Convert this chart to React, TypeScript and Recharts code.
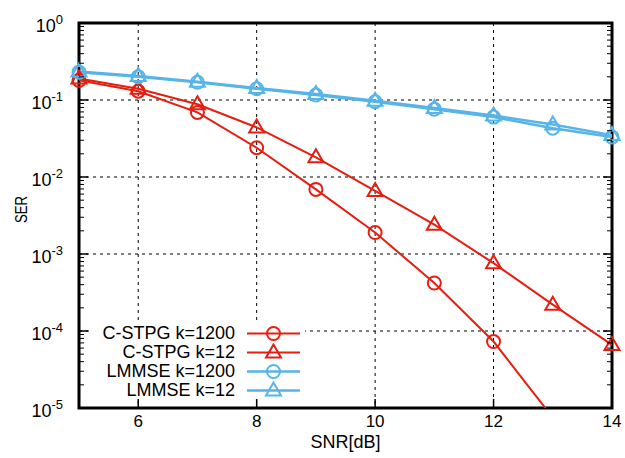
import {
  ComposedChart,
  Line,
  Scatter,
  XAxis,
  YAxis,
  CartesianGrid,
  ReferenceArea,
} from 'recharts'

// values
const SNR = [5, 6, 7, 8, 9, 10, 11, 12, 13, 14]
const CSTPG_1200 = [0.18, 0.13, 0.069, 0.024, 0.0069, 0.0019, 0.00042, 7.3e-5, 7.5e-6]
const CSTPG_12 = [0.19, 0.14, 0.088, 0.044, 0.018, 0.0066, 0.0024, 0.00076, 0.00022, 6.6e-5]
const LMMSE_1200 = [0.23, 0.2, 0.17, 0.14, 0.116, 0.095, 0.076, 0.06, 0.043, 0.033]
const LMMSE_12 = [0.235, 0.205, 0.172, 0.143, 0.12, 0.098, 0.079, 0.063, 0.048, 0.035]

const X_TICKS = [6, 8, 10, 12, 14]
const X_GRID = [6, 8, 10, 12]
const DECADES = [1e-5, 1e-4, 1e-3, 1e-2, 1e-1, 1]
const MINOR_STEPS = [2, 3, 4, 5, 6, 7, 8, 9]

const Y_MIN = DECADES[0]
const Y_MAX = DECADES[DECADES.length - 1]
const Y_TICKS = DECADES.flatMap((d, i) =>
  i === DECADES.length - 1 ? [d] : [d, ...MINOR_STEPS.map((m) => m * d)]
)

const RED = '#e51e10'
const BLUE = '#56b4e9'
const FONT = '"Liberation Sans", Arial, Helvetica, sans-serif'

const SERIES = [
  { key: 'c1200', name: 'C-STPG k=1200', values: CSTPG_1200, color: RED, shape: 'circle', width: 2 },
  { key: 'c12', name: 'C-STPG k=12', values: CSTPG_12, color: RED, shape: 'triangle', width: 2 },
  { key: 'l1200', name: 'LMMSE k=1200', values: LMMSE_1200, color: BLUE, shape: 'circle', width: 2.5 },
  { key: 'l12', name: 'LMMSE k=12', values: LMMSE_12, color: BLUE, shape: 'triangle', width: 2.5 },
]

const data = SNR.map((snr, i) => {
  const row: Record<string, number | undefined> = { snr }
  SERIES.forEach((s) => (row[s.key] = s.values[i]))
  return row
})

// points inside the y range, for the markers
const markerData = (values: number[]) =>
  SNR.map((x, i) => ({ x, y: values[i] })).filter((p) => p.y != null && p.y >= Y_MIN)

const isMajor = (v: number) => Math.abs(Math.log10(v) - Math.round(Math.log10(v))) < 1e-9

function Marker({ cx, cy, shape, color, sw }: any) {
  if (cx == null || cy == null) return null
  if (shape === 'circle') {
    return <circle cx={cx} cy={cy} r={6.5} fill="none" stroke={color} strokeWidth={sw} />
  }
  return (
    <path
      d={`M${cx},${cy - 8}L${cx + 7.5},${cy + 5}L${cx - 7.5},${cy + 5}Z`}
      fill="none"
      stroke={color}
      strokeWidth={sw}
    />
  )
}

function LeftTick({ x, y, payload }: any) {
  const v = payload.value
  const major = isMajor(v)
  const e = Math.round(Math.log10(v))
  return (
    <g>
      <line x1={x} x2={x + (major ? 9 : 5)} y1={y} y2={y} stroke="#000" strokeWidth={major ? 1.5 : 1} />
      {major && (
        <text x={x - 16} y={y + 9} textAnchor="end" fontSize={18} fontFamily={FONT} fill="#000">
          10
          <tspan dy={-8} fontSize={13}>
            {String(e)}
          </tspan>
        </text>
      )}
    </g>
  )
}

function RightTick({ x, y, payload }: any) {
  const major = isMajor(payload.value)
  return <line x1={x} x2={x - (major ? 9 : 5)} y1={y} y2={y} stroke="#000" strokeWidth={major ? 1.5 : 1} />
}

function BottomTick({ x, y, payload }: any) {
  return (
    <g>
      <line x1={x} x2={x} y1={y} y2={y - 9} stroke="#000" strokeWidth={1.5} />
      <text x={x} y={y + 19} textAnchor="middle" fontSize={17} fontFamily={FONT} fill="#000">
        {payload.value}
      </text>
    </g>
  )
}

function SerTitle(props: any) {
  const vb = props.viewBox ?? { x: 0, y: 23, width: 79, height: 385 }
  const cx = vb.x + 21
  const cy = vb.y + vb.height / 2 - 6
  return (
    <text
      transform={`translate(${cx},${cy}) rotate(-90) scale(0.78,1)`}
      textAnchor="middle"
      dominantBaseline="central"
      fontSize={17}
      fontFamily={FONT}
      fill="#000"
    >
      SER
    </text>
  )
}

function LegendBox() {
  return (
    <div
      style={{
        position: 'absolute',
        left: 90,
        top: 324,
        width: 215,
        height: 75,
        background: '#fff',
        fontFamily: FONT,
        fontSize: 18,
        color: '#000',
      }}
    >
      {SERIES.map((s) => (
        <div key={s.key} style={{ height: 19, display: 'flex', alignItems: 'center' }}>
          <span style={{ width: 145, textAlign: 'right', lineHeight: '19px', whiteSpace: 'nowrap' }}>
            {s.name}
          </span>
          <svg width={58} height={19} style={{ marginLeft: 12, display: 'block' }}>
            <line x1={0} x2={53} y1={9.5} y2={9.5} stroke={s.color} strokeWidth={s.width} />
            <Marker cx={26.5} cy={9.5} shape={s.shape} color={s.color} sw={2} />
          </svg>
        </div>
      ))}
    </div>
  )
}

export default function App() {
  return (
    <div style={{ position: 'absolute', left: 0, top: 0, width: 625, height: 458, background: '#fff' }}>
      <ComposedChart width={625} height={458} data={data} margin={{ top: 23, right: 0, bottom: 0, left: 0 }}>
        <CartesianGrid
          stroke="#000"
          strokeWidth={1}
          strokeDasharray="3 4"
          horizontalValues={DECADES.slice(1, -1)}
          verticalValues={X_GRID}
        />
        <XAxis
          dataKey="snr"
          type="number"
          domain={[5, 14]}
          ticks={X_TICKS}
          interval={0}
          height={50}
          tickSize={0}
          tickMargin={0}
          axisLine={false}
          tickLine={false}
          tick={<BottomTick />}
          label={{ value: 'SNR[dB]', position: 'insideBottom', offset: 10, fontSize: 18, fill: '#000', fontFamily: FONT }}
        />
        <YAxis
          type="number"
          scale="log"
          domain={[Y_MIN, Y_MAX]}
          allowDataOverflow
          ticks={Y_TICKS}
          interval={0}
          width={79}
          tickSize={0}
          tickMargin={0}
          axisLine={false}
          tickLine={false}
          tick={<LeftTick />}
          label={(p: any) => <SerTitle {...p} />}
        />
        <YAxis
          yAxisId="r"
          orientation="right"
          type="number"
          scale="log"
          domain={[Y_MIN, Y_MAX]}
          allowDataOverflow
          ticks={Y_TICKS}
          interval={0}
          width={13}
          tickSize={0}
          tickMargin={0}
          axisLine={false}
          tickLine={false}
          tick={<RightTick />}
        />
        <XAxis xAxisId="m" dataKey="x" type="number" domain={[5, 14]} hide />
        <YAxis yAxisId="m" dataKey="y" type="number" scale="log" domain={[Y_MIN, Y_MAX]} hide />

        {SERIES.map((s) => (
          <Line
            key={s.key}
            dataKey={s.key}
            stroke={s.color}
            strokeWidth={s.width}
            dot={false}
            activeDot={false}
            isAnimationActive={false}
          />
        ))}
        {SERIES.map((s) => (
          <Scatter
            key={'m-' + s.key}
            data={markerData(s.values)}
            xAxisId="m"
            yAxisId="m"
            isAnimationActive={false}
            shape={(p: any) => <Marker cx={p.cx} cy={p.cy} shape={s.shape} color={s.color} sw={2} />}
          />
        ))}
        <ReferenceArea x1={5} x2={14} y1={Y_MIN} y2={Y_MAX} fill="none" stroke="#000" strokeWidth={3} />
      </ComposedChart>
      <LegendBox />
    </div>
  )
}
